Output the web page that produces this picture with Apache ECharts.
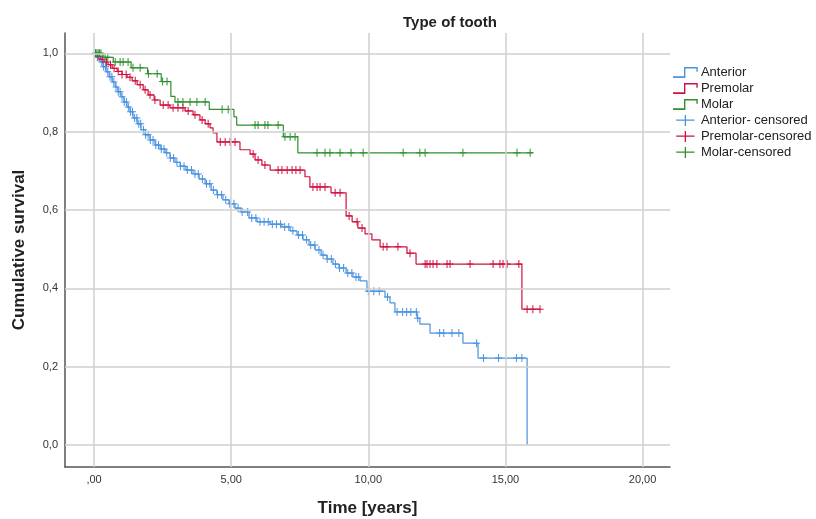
<!DOCTYPE html>
<html>
<head>
<meta charset="utf-8">
<script src="https://cdn.jsdelivr.net/npm/echarts@6/dist/echarts.min.js"></script>
<style>
  html, body { margin: 0; padding: 0; background: #fff; }
  #myChart { width: 816px; height: 519px; }
</style>
</head>
<body>
<div id="myChart"></div>
<script>
const timeTicks = [0, 5, 10, 15, 20];
const survTicks = [0, 0.2, 0.4, 0.6, 0.8, 1.0];

// Kaplan-Meier steps: [time in years, survival after the event]
const anteriorSteps = [
  [0.11, 0.99], [0.22, 0.978], [0.33, 0.966], [0.44, 0.953], [0.55, 0.94],
  [0.66, 0.927], [0.77, 0.914], [0.87, 0.902], [0.98, 0.889], [1.09, 0.876],
  [1.2, 0.863], [1.31, 0.851], [1.42, 0.835], [1.57, 0.82], [1.71, 0.805],
  [1.86, 0.792], [2.04, 0.779], [2.22, 0.766], [2.41, 0.756], [2.59, 0.746],
  [2.77, 0.733], [2.95, 0.722], [3.14, 0.712], [3.35, 0.702], [3.61, 0.692],
  [3.83, 0.679], [4.05, 0.667], [4.27, 0.651], [4.48, 0.639], [4.7, 0.626],
  [4.92, 0.616], [5.14, 0.605], [5.36, 0.595], [5.65, 0.58], [5.94, 0.57],
  [6.42, 0.564], [6.85, 0.557], [7.15, 0.547], [7.4, 0.536], [7.62, 0.524],
  [7.84, 0.511], [8.06, 0.498], [8.28, 0.485], [8.49, 0.475], [8.71, 0.462],
  [8.93, 0.452], [9.19, 0.439], [9.44, 0.429], [9.7, 0.419], [9.95, 0.393],
  [10.61, 0.378], [10.79, 0.363], [10.97, 0.34], [11.78, 0.324], [11.88, 0.309],
  [12.25, 0.286], [13.45, 0.26], [14.0, 0.222], [15.79, 0.0]
];
const premolarSteps = [
  [0.11, 0.992], [0.22, 0.985], [0.36, 0.978], [0.51, 0.971], [0.66, 0.962],
  [0.84, 0.954], [1.02, 0.946], [1.2, 0.939], [1.39, 0.93], [1.57, 0.92],
  [1.79, 0.907], [1.97, 0.894], [2.19, 0.881], [2.41, 0.868], [2.77, 0.861],
  [3.32, 0.853], [3.61, 0.843], [3.86, 0.83], [4.05, 0.82], [4.23, 0.81],
  [4.34, 0.797], [4.48, 0.774], [5.32, 0.754], [5.69, 0.743], [5.87, 0.728],
  [6.12, 0.715], [6.42, 0.702], [7.69, 0.685], [7.87, 0.659], [8.64, 0.644],
  [9.19, 0.585], [9.41, 0.57], [9.62, 0.554], [9.88, 0.539], [10.13, 0.524],
  [10.43, 0.506], [11.41, 0.49], [11.74, 0.462], [15.6, 0.347]
];
const molarSteps = [
  [0.33, 0.99], [0.7, 0.978], [1.35, 0.963], [1.95, 0.948], [2.45, 0.928],
  [2.8, 0.89], [2.95, 0.876], [4.2, 0.857], [5.1, 0.838], [5.2, 0.817],
  [6.9, 0.787], [7.43, 0.746]
];
const lastTime = { anterior: 15.79, premolar: 16.26, molar: 16.0 };

// censored observations (years)
const anteriorCensored = [
  0.05, 0.12, 0.2, 0.28, 0.35, 0.42, 0.5, 0.58, 0.65, 0.72, 0.8, 0.88, 0.95,
  1.02, 1.1, 1.18, 1.25, 1.33, 1.4, 1.48, 1.56, 1.63, 1.7, 1.8, 1.88, 1.97,
  2.05, 2.15, 2.25, 2.35, 2.45, 2.55, 2.65, 2.78, 2.9, 3.02, 3.15, 3.28, 3.4,
  3.55, 3.68, 3.8, 3.95, 4.1, 4.22, 4.35, 4.5, 4.65, 4.8, 4.95, 5.1, 5.25,
  5.4, 5.6, 5.75, 5.9, 6.05, 6.2, 6.35, 6.5, 6.65, 6.8, 6.95, 7.1, 7.25,
  7.45, 7.6, 7.75, 7.9, 8.05, 8.2, 8.35, 8.5, 8.65, 8.8, 8.95, 9.1, 9.25,
  9.4, 9.55, 9.65, 10.0, 10.2, 10.4, 10.7, 11.05, 11.25, 11.4, 11.55, 11.75,
  11.8, 12.6, 12.75, 13.05, 13.3, 13.95, 14.2, 14.75, 15.4, 15.6
];
const premolarCensored = [
  0.15, 0.3, 0.45, 0.6, 0.73, 0.88, 1.02, 1.17, 1.31, 1.5, 1.68, 1.86, 2.04,
  2.22, 2.52, 2.7, 2.88, 3.06, 3.24, 3.43, 3.68, 3.94, 4.16, 4.6, 4.78, 4.96,
  5.14, 5.8, 5.98, 6.23, 6.71, 6.85, 7.04, 7.22, 7.36, 7.51, 7.98, 8.13, 8.24,
  8.42, 8.79, 8.97, 9.3, 9.59, 9.77, 10.54, 10.68, 11.08, 11.52, 12.07, 12.14,
  12.25, 12.36, 12.5, 12.87, 12.98, 13.71, 14.55, 14.8, 14.91, 15.06, 15.49,
  15.79, 16.0, 16.26
];
const molarCensored = [
  0.05, 0.1, 0.15, 0.2, 0.25, 0.4, 0.5, 0.77, 0.95, 1.06, 1.24, 1.42, 1.68,
  1.98, 2.3, 2.5, 2.66, 3.06, 3.24, 3.5, 3.75, 4.05, 4.67, 4.89, 5.87, 5.98,
  6.23, 6.34, 6.71, 6.96, 7.15, 7.33, 8.13, 8.42, 8.6, 8.97, 9.37, 9.81,
  11.27, 11.88, 12.07, 13.45, 15.42, 15.9
];

const colors = { anterior: "#4a92e0", premolar: "#d0103e", molar: "#2f8f2f" };

const stepIcon = "path://M0,8.8H8V2H18V5.5H17V3H9V10H0Z";
const plusIcon = "path://M0,5H9.3V0H10.7V5H20V6.4H10.7V12H9.3V6.4H0Z";
const censorSymbol = "path://M3,0H4V3.5H7V4.5H4V8H3V4.5H0V3.5H3Z";

function stepLine(steps, end) {
  let pts = [[0, 1]];
  steps.forEach(s => pts.push([s[0], s[1]]));
  let last = pts[pts.length - 1];
  if (end > last[0]) pts.push([end, last[1]]);
  return pts;
}

function survivalAt(steps, t) {
  let s = 1;
  steps.forEach(st => {
    if (st[0] <= t) s = st[1];
  });
  return s;
}

function censorPoints(steps, times) {
  return times.map(t => [t, survivalAt(steps, t)]);
}

const fmtX = v => (v === 0 ? ",00" : v.toFixed(2).replace(".", ","));
const fmtY = v => v.toFixed(1).replace(".", ",");

const myChart = echarts.init(document.getElementById("myChart"));

const lineSeries = (name, steps, end, color) => ({
  name: name,
  type: "line",
  step: "end",
  data: stepLine(steps, end),
  showSymbol: false,
  symbol: "none",
  color: color,
  lineStyle: { color: color, width: 1.2 },
  z: 3
});

const censorSeries = (name, steps, times, color) => ({
  name: name,
  type: "scatter",
  data: censorPoints(steps, times),
  symbol: censorSymbol,
  symbolSize: [7, 8],
  itemStyle: { color: color, opacity: 1, borderWidth: 0 },
  color: color,
  z: 4
});

const legendItem = (name, icon, color) => ({
  name: name,
  icon: icon,
  itemStyle: { color: color, borderWidth: 0 }
});

const option = {
  animation: false,
  backgroundColor: "#fff",
  title: {
    text: "Type of tooth",
    left: 445,
    top: 10,
    textAlign: "center",
    textStyle: { fontFamily: "Liberation Sans", fontSize: 15, fontWeight: "bold", color: "#222" }
  },
  legend: {
    orient: "vertical",
    left: 673,
    top: 66,
    padding: 0,
    itemGap: 3,
    itemWidth: 25,
    itemHeight: 11,
    textStyle: { fontFamily: "Liberation Sans", fontSize: 13, color: "#222", padding: [0, 0, 0, -2] },
    data: [
      legendItem("Anterior", stepIcon, colors.anterior),
      legendItem("Premolar", stepIcon, colors.premolar),
      legendItem("Molar", stepIcon, colors.molar),
      legendItem("Anterior- censored", plusIcon, colors.anterior),
      legendItem("Premolar-censored", plusIcon, colors.premolar),
      legendItem("Molar-censored", plusIcon, colors.molar)
    ]
  },
  grid: { left: 65, right: 146, top: 33, bottom: 52, outerBoundsMode: "none" },
  xAxis: {
    type: "value",
    min: -1.06,
    max: 21.0,
    name: "Time [years]",
    nameLocation: "middle",
    nameGap: 33,
    nameTextStyle: { fontFamily: "Liberation Sans", fontSize: 17, fontWeight: "bold", color: "#222" },
    axisLine: { show: true, onZero: false, lineStyle: { color: "#555", width: 1.5 } },
    axisTick: { show: false },
    splitLine: { show: false },
    axisLabel: {
      customValues: timeTicks,
      formatter: fmtX,
      margin: 7,
      fontFamily: "Liberation Sans",
      fontSize: 11,
      color: "#333"
    }
  },
  yAxis: {
    type: "value",
    min: -0.056,
    max: 1.052,
    name: "Cumulative survival",
    nameLocation: "middle",
    nameGap: 37,
    nameTextStyle: { fontFamily: "Liberation Sans", fontSize: 17, fontWeight: "bold", color: "#222" },
    axisLine: { show: true, onZero: false, lineStyle: { color: "#555", width: 1.5 } },
    axisTick: { show: false },
    splitLine: { show: false },
    axisLabel: {
      customValues: survTicks,
      formatter: fmtY,
      margin: 7,
      fontFamily: "Liberation Sans",
      fontSize: 11,
      color: "#333"
    }
  },
  series: [
    {
      type: "line",
      data: [],
      silent: true,
      z: 1,
      markLine: {
        silent: true,
        symbol: "none",
        label: { show: false },
        lineStyle: { color: "#cfcfcf", width: 1.5, type: "solid" },
        data: timeTicks.map(v => ({ xAxis: v })).concat(survTicks.map(v => ({ yAxis: v })))
      }
    },
    lineSeries("Anterior", anteriorSteps, lastTime.anterior, colors.anterior),
    lineSeries("Premolar", premolarSteps, lastTime.premolar, colors.premolar),
    lineSeries("Molar", molarSteps, lastTime.molar, colors.molar),
    censorSeries("Anterior- censored", anteriorSteps, anteriorCensored, colors.anterior),
    censorSeries("Premolar-censored", premolarSteps, premolarCensored, colors.premolar),
    censorSeries("Molar-censored", molarSteps, molarCensored, colors.molar)
  ]
};

myChart.setOption(option);
</script>
</body>
</html>
